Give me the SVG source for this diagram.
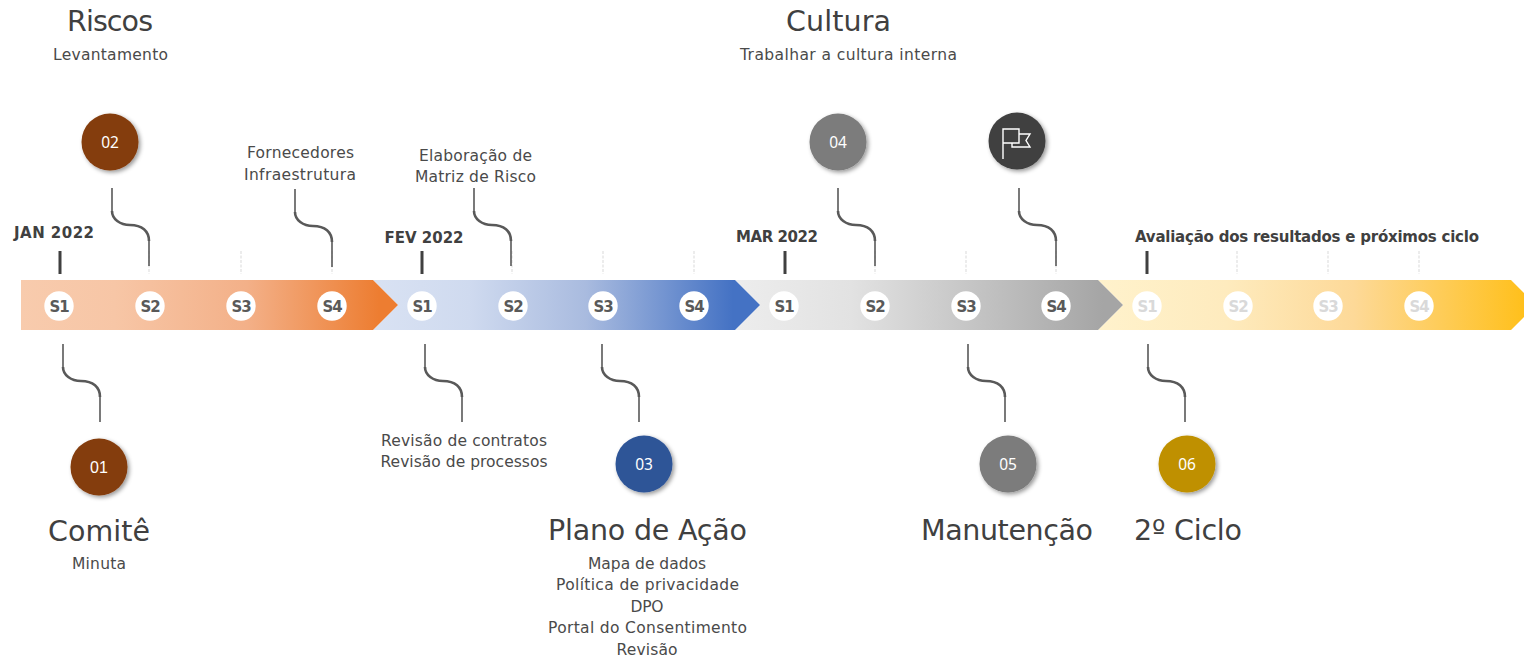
<svg xmlns="http://www.w3.org/2000/svg" width="1524" height="660" viewBox="0 0 1524 660">
<style>
text{font-family:"DejaVu Sans","Noto Sans",sans-serif;fill:#404040;text-anchor:middle}
.h{font-size:28.5px}
.b{font-size:15.5px;fill:#4a4a4a}
.m{font-size:15px;font-weight:700}
.s{font-size:15px;font-weight:700;fill:#595959;letter-spacing:-1px}
.n{font-size:15.5px;fill:#fff;font-family:"Noto Sans",sans-serif}
.w{fill:#fff}
.fs{fill:#d9d9d9}
.tk{stroke:#404040;stroke-width:3}
.ds{stroke:#d9d9d9;stroke-width:1;stroke-dasharray:3 1.5}
.cv{fill:none;stroke:#595959;stroke-width:2.6}
.ln{fill:none;stroke:#595959;stroke-width:1.6}
</style>
<defs>
<linearGradient id="g1"><stop offset="0" stop-color="#F8CBAD"/><stop offset=".25" stop-color="#F7C6A6"/><stop offset=".6" stop-color="#F3B088"/><stop offset=".95" stop-color="#ED7D31"/></linearGradient>
<linearGradient id="g2"><stop offset="0" stop-color="#D9E2F3"/><stop offset=".25" stop-color="#CFDAEF"/><stop offset=".55" stop-color="#A9BBDF"/><stop offset=".93" stop-color="#4472C4"/></linearGradient>
<linearGradient id="g3"><stop offset="0" stop-color="#EDEDED"/><stop offset=".3" stop-color="#E2E2E2"/><stop offset=".95" stop-color="#A5A5A5"/></linearGradient>
<linearGradient id="g4"><stop offset="0" stop-color="#FFF2CC"/><stop offset=".3" stop-color="#FEEBBE"/><stop offset=".6" stop-color="#FDD998"/><stop offset="1" stop-color="#FFC01C"/></linearGradient>
<filter id="sh" x="-30%" y="-30%" width="170%" height="170%"><feDropShadow dx="2" dy="2" stdDeviation="2" flood-color="#000" flood-opacity=".4"/></filter>
<g id="cu"><path class="ln" d="M0 0V23M37 52V78"/><path class="cv" d="M0 23C0 31 8 37 18 37C30 37 37 43 37 53"/></g>
</defs>
<g id="bar">
<path d="M1098 280H1511L1524 293V317L1511 330H1098L1123 305Z" fill="url(#g4)"/>
<path d="M735 280H1098L1123 305L1098 330H735L760 305Z" fill="url(#g3)"/>
<path d="M373 280H735L760 305L735 330H373L398 305Z" fill="url(#g2)"/>
<path d="M21 280H373L398 305L373 330H21Z" fill="url(#g1)"/>
</g>
<g id="ticks">
<path class="tk" d="M60 251V274M422 251V274M785 251V274M1147 251V274"/>
<path class="ds" d="M149 251V274M241 251V274M332 251V274M512 251V274M603 251V274M694 251V274M875 251V274M966 251V274M1056 251V274M1237 251V274M1328 251V274M1419 251V274"/>
</g>
<g id="connectors">
<use href="#cu" x="112" y="188"/><use href="#cu" x="295" y="189"/><use href="#cu" x="474" y="188"/><use href="#cu" x="838" y="188"/><use href="#cu" x="1019" y="188"/>
<use href="#cu" x="63" y="344"/><use href="#cu" x="425" y="344"/><use href="#cu" x="602" y="344"/><use href="#cu" x="968" y="344"/><use href="#cu" x="1148" y="344"/>
</g>
<g id="weeks">
<g id="w1"><circle class="w" cx="59" cy="306" r="14.7"/><text class="s" x="59" y="311.500">S1</text><circle class="w" cx="150" cy="306" r="14.7"/><text class="s" x="150" y="311.500">S2</text><circle class="w" cx="241" cy="306" r="14.7"/><text class="s" x="241" y="311.500">S3</text><circle class="w" cx="332" cy="306" r="14.7"/><text class="s" x="332" y="311.500">S4</text></g>
<g id="w2"><circle class="w" cx="422" cy="306" r="14.7"/><text class="s" x="422" y="311.500">S1</text><circle class="w" cx="513" cy="306" r="14.7"/><text class="s" x="513" y="311.500">S2</text><circle class="w" cx="603" cy="306" r="14.7"/><text class="s" x="603" y="311.500">S3</text><circle class="w" cx="694" cy="306" r="14.7"/><text class="s" x="694" y="311.500">S4</text></g>
<g id="w3"><circle class="w" cx="784" cy="306" r="14.7"/><text class="s" x="784" y="311.500">S1</text><circle class="w" cx="875" cy="306" r="14.7"/><text class="s" x="875" y="311.500">S2</text><circle class="w" cx="966" cy="306" r="14.7"/><text class="s" x="966" y="311.500">S3</text><circle class="w" cx="1056" cy="306" r="14.7"/><text class="s" x="1056" y="311.500">S4</text></g>
<g id="w4"><circle class="w" cx="1147" cy="306" r="14.7"/><text class="s fs" x="1147" y="311.500">S1</text><circle class="w" cx="1238" cy="306" r="14.7"/><text class="s fs" x="1238" y="311.500">S2</text><circle class="w" cx="1328" cy="306" r="14.7"/><text class="s fs" x="1328" y="311.500">S3</text><circle class="w" cx="1419" cy="306" r="14.7"/><text class="s fs" x="1419" y="311.500">S4</text></g>
</g>
<g id="months">
<text class="m" x="54" y="238" textLength="80">JAN 2022</text><text class="m" x="424" y="243" textLength="79">FEV 2022</text><text class="m" x="777" y="242" textLength="82">MAR 2022</text><text class="m" x="1307" y="242" textLength="344">Avaliação dos resultados e próximos ciclo</text>
</g>
<g id="node-02"><circle cx="110" cy="142" r="28.5" fill="#843C0C" filter="url(#sh)"/><text class="n" x="110" y="148">02</text></g>
<g id="node-01"><circle cx="99" cy="467" r="28.5" fill="#843C0C" filter="url(#sh)"/><text class="n" x="99" y="473" style="font-family:'Liberation Sans',sans-serif;font-size:16px">01</text></g>
<g id="node-03"><circle cx="644" cy="464" r="28.5" fill="#2F5597" filter="url(#sh)"/><text class="n" x="644" y="470">03</text></g>
<g id="node-04"><circle cx="838" cy="142" r="28.5" fill="#7B7B7B" filter="url(#sh)"/><text class="n" x="838" y="148">04</text></g>
<g id="node-05"><circle cx="1008" cy="464" r="28.5" fill="#7B7B7B" filter="url(#sh)"/><text class="n" x="1008" y="470">05</text></g>
<g id="node-06"><circle cx="1187" cy="464" r="28.5" fill="#BF9000" filter="url(#sh)"/><text class="n" x="1187" y="470">06</text></g>
<g id="node-flag"><circle cx="1017" cy="141" r="28.5" fill="#404040" filter="url(#sh)"/><path d="M1003 159V129H1019V143H1003M1019 134H1030L1026 140.500L1030 147H1012V143" fill="none" stroke="#fff" stroke-width="1.4"/></g>
<g id="labels">
<text class="h" x="110" y="31" textLength="86">Riscos</text><text class="b" x="110.500" y="60" textLength="115">Levantamento</text>
<text class="h" x="838.500" y="31" textLength="105">Cultura</text><text class="b" x="848.500" y="60" textLength="217">Trabalhar a cultura interna</text>
<text class="b" x="300.500" y="158" textLength="107">Fornecedores</text><text class="b" x="300" y="180" textLength="112">Infraestrutura</text>
<text class="b" x="475.500" y="161" textLength="113">Elaboração de</text><text class="b" x="475.500" y="182" textLength="121">Matriz de Risco</text>
<text class="b" x="464" y="446" textLength="166">Revisão de contratos</text><text class="b" x="464" y="467" textLength="167">Revisão de processos</text>
<text class="h" x="99" y="541" textLength="102">Comitê</text><text class="b" x="99" y="569" textLength="54">Minuta</text>
<text class="h" x="647.500" y="540" textLength="199">Plano de Ação</text>
<text class="b" x="647" y="569" textLength="118">Mapa de dados</text><text class="b" x="647.500" y="590" textLength="183">Política de privacidade</text><text class="b" x="647" y="612" textLength="33">DPO</text><text class="b" x="647.500" y="633" textLength="199">Portal do Consentimento</text><text class="b" x="647" y="655" textLength="61">Revisão</text>
<text class="h" x="1007" y="540" textLength="172">Manutenção</text><text class="h" x="1188" y="540" textLength="108">2º Ciclo</text>
</g>
</svg>
